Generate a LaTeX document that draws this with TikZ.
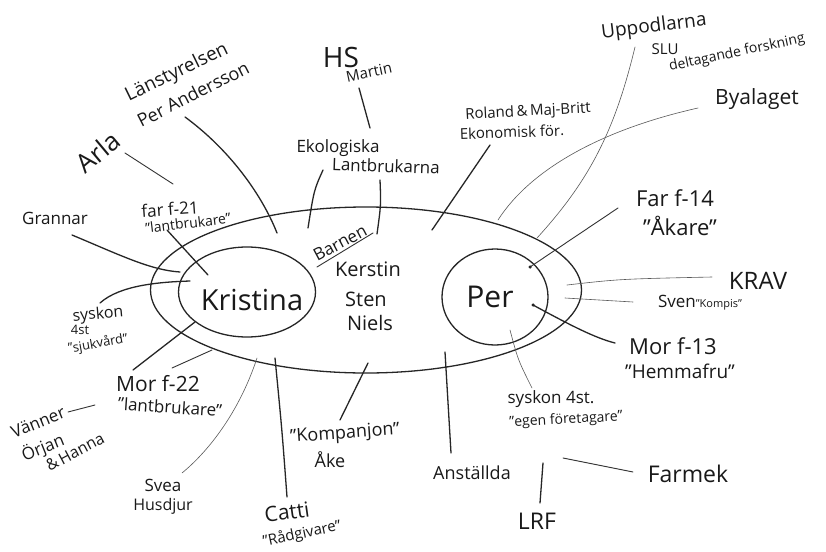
\documentclass[tikz,border=0pt]{standalone}
\usepackage{fontspec}
\setmainfont{Open Sans}
\usetikzlibrary{shapes.geometric}
\newcommand{\fs}[1]{\fontsize{#1}{#1}\selectfont}
\begin{document}
\begin{tikzpicture}[x=1pt,y=-1pt,
  lbl/.style={inner sep=0pt, align=center, text=black!90},
  ring/.style={draw=black!85, line width=1.3pt, ellipse, inner sep=0pt},
  thk/.style={draw=black!85, line width=1.3pt, line cap=round},
  mid/.style={draw=black!80, line width=0.9pt, line cap=round},
  thn/.style={draw=black!65, line width=0.6pt, line cap=round},
  pt/.style={circle, fill=black!85, inner sep=0pt, minimum size=3.5pt}]
\useasboundingbox (0,0) rectangle (826,551);
\fill[white] (0,0) rectangle (826,551);

% rings
\node[ring, minimum width=431pt, minimum height=166pt] (outer) at (366,290) {};
\node[ring, minimum width=137pt, minimum height=90pt] (kring) at (247,292) {};
\node[ring, minimum width=106pt, minimum height=96pt] (pring) at (495,297) {};

% centre labels
\node[lbl, font=\fs{29}] (kristina) at (252,300) {Kristina};
\node[lbl, font=\fs{30}] (per) at (490,297) {Per};
\node[lbl, font=\fs{20}] (kerstin) at (368,269) {Kerstin};
\node[lbl, font=\fs{20}] (sten) at (366,299) {Sten};
\node[lbl, font=\fs{20}] (niels) at (370,323) {Niels};
\node[lbl, font=\fs{17}, rotate=28] (barnen) at (340,243) {Barnen};

% outer labels
\node[lbl, font=\fs{19}, rotate=26] (lan1) at (177,73) {Länstyrelsen};
\node[lbl, font=\fs{18}, rotate=27] (lan2) at (193,94) {Per Andersson};
\node[lbl, font=\fs{28}] (hs) at (341,57) {HS};
\node[lbl, font=\fs{15}, rotate=12] (martin) at (369,72) {Martin};
\node[lbl, font=\fs{26}, rotate=40] (arla) at (98,152) {Arla};
\node[lbl, font=\fs{17}] (eko1) at (338,148) {Ekologiska};
\node[lbl, font=\fs{17}, rotate=-2] (eko2) at (386,166) {Lantbrukarna};
\node[lbl, font=\fs{15}, rotate=3] (rol1) at (528,112) {Roland\,\&\,Maj-Britt};
\node[lbl, font=\fs{15}, rotate=2] (rol2) at (512,132) {Ekonomisk för.};
\node[lbl, font=\fs{19}, rotate=7] (uppod) at (654,27) {Uppodlarna};
\node[lbl, font=\fs{15}] (slu) at (665,49) {SLU};
\node[lbl, font=\fs{14}, rotate=12] (delt) at (737,53) {deltagande forskning};
\node[lbl, font=\fs{21}] (byal) at (757,99) {Byalaget};
\node[lbl, font=\fs{22}] (far14) at (675,198) {Far f-14};
\node[lbl, font=\fs{22}] (akare) at (680,226) {”Åkare”};
\node[lbl, font=\fs{24}] (krav) at (758,281) {KRAV};
\node[lbl, font=\fs{17}] (sven) at (700,303) {Sven{\fs{11}”Kompis”}};
\node[lbl, font=\fs{22}] (mor13) at (673,346) {Mor f-13};
\node[lbl, font=\fs{19}] (hemma) at (680,371) {”Hemmafru”};
\node[lbl, font=\fs{17}] (sysk4) at (551,399) {syskon 4st.};
\node[lbl, font=\fs{14}, rotate=3] (egen) at (566,420) {”egen företagare”};
\node[lbl, font=\fs{18}] (anst) at (472,473) {Anställda};
\node[lbl, font=\fs{23}] (farmek) at (688,474) {Farmek};
\node[lbl, font=\fs{23}] (lrf) at (537,521) {LRF};
\node[lbl, font=\fs{18}, rotate=4] (kompj) at (345,434) {”Kompanjon”};
\node[lbl, font=\fs{18}] (ake) at (330,460) {Åke};
\node[lbl, font=\fs{21}, rotate=8] (catti) at (287,512) {Catti};
\node[lbl, font=\fs{15}, rotate=12] (radg) at (302,534) {”Rådgivare”};
\node[lbl, font=\fs{17}] (svea) at (163,485) {Svea};
\node[lbl, font=\fs{16}] (husdj) at (163,506) {Husdjur};
\node[lbl, font=\fs{17}, rotate=22] (vanner) at (38,422) {Vänner};
\node[lbl, font=\fs{17}, rotate=22] (orjan) at (43,448) {Örjan};
\node[lbl, font=\fs{16}, rotate=28] (hanna) at (75,452) {\&\,Hanna};
\node[lbl, font=\fs{21}] (mor22) at (158,384) {Mor f-22};
\node[lbl, font=\fs{17}, rotate=-4] (lant22) at (170,407) {”lantbrukare”};
\node[lbl, font=\fs{16}, rotate=5] (sysk) at (98,315) {syskon};
\node[lbl, font=\fs{13}] (fyrst) at (80,330) {4st};
\node[lbl, font=\fs{13}, rotate=10] (sjuk) at (98,344) {”sjukvård”};
\node[lbl, font=\fs{17}] (grann) at (55,218) {Grannar};
\node[lbl, font=\fs{17}, rotate=4] (far21) at (170,209) {far f-21};
\node[lbl, font=\fs{14}, rotate=7] (lant21) at (188,223) {”lantbrukare”};

% connector end points
\coordinate (lanA) at (185,117);   \coordinate (lanB) at (277,233);
\coordinate (hsA) at (359,88);     \coordinate (hsB) at (370,128);
\coordinate (ekA) at (323,170);    \coordinate (ekB) at (308,228);
\coordinate (ekC) at (380,180);    \coordinate (ekD) at (377,234);
\coordinate (arA) at (125,153);    \coordinate (arB) at (173,184);
\coordinate (f21A) at (167,230);   \coordinate (f21B) at (208,275);
\coordinate (grA) at (72,235);     \coordinate (grB) at (180,272);
\coordinate (syA) at (100,303);    \coordinate (syB) at (190,281);
\coordinate (m22A) at (133,370);   \coordinate (m22B) at (195,322);
\coordinate (m22C) at (172,368);   \coordinate (m22D) at (212,350);
\coordinate (svA) at (257,358);    \coordinate (svB) at (182,473);
\coordinate (caA) at (275,358);    \coordinate (caB) at (287,497);
\coordinate (koA) at (368,363);    \coordinate (koB) at (340,420);
\coordinate (anA) at (445,352);    \coordinate (anB) at (451,453);
\coordinate (lrA) at (543,463);    \coordinate (lrB) at (540,503);
\coordinate (fmA) at (563,458);    \coordinate (fmB) at (633,472);
\coordinate (s4A) at (510,330);    \coordinate (s4B) at (532,388);
\coordinate (m13A) at (533,305);   \coordinate (m13B) at (615,343);
\coordinate (krA) at (567,285);    \coordinate (krB) at (712,277);
\coordinate (snA) at (565,298);    \coordinate (snB) at (633,302);
\coordinate (f14A) at (530,267);   \coordinate (f14B) at (618,208);
\coordinate (byA) at (698,108);    \coordinate (byB) at (498,220);
\coordinate (upA) at (635,47);     \coordinate (upB) at (537,238);
\coordinate (roA) at (490,145);    \coordinate (roB) at (432,230);
\coordinate (vaA) at (68,412);     \coordinate (vaB) at (95,405);
\coordinate (baA) at (317,267);    \coordinate (baB) at (373,233);

% connectors
\draw[thk] (lanA) .. controls (230,150) and (262,195) .. (lanB);
\draw[thk] (hsA) -- (hsB);
\draw[thk] (ekA) .. controls (314,190) .. (ekB);
\draw[thk] (ekC) .. controls (381,205) .. (ekD);
\draw[mid] (arA) -- (arB);
\draw[thk] (f21A) -- (f21B);
\draw[thk] (grA) .. controls (120,255) and (150,270) .. (grB);
\draw[thk] (syA) .. controls (120,285) and (160,282) .. (syB);
\draw[thk] (m22A) -- (m22B);
\draw[mid] (m22C) -- (m22D);
\draw[thn] (svA) .. controls (240,410) and (210,450) .. (svB);
\draw[thk] (caA) .. controls (282,430) .. (caB);
\draw[thk] (koA) -- (koB);
\draw[thk] (anA) -- (anB);
\draw[thk] (lrA) -- (lrB);
\draw[mid] (fmA) -- (fmB);
\draw[thn] (s4A) .. controls (518,360) .. (s4B);
\draw[thk] (m13A) .. controls (570,325) and (595,338) .. (m13B);
\draw[thn] (krA) .. controls (620,279) .. (krB);
\draw[thn] (snA) -- (snB);
\draw[mid] (f14A) -- (f14B);
\draw[thn] (byA) .. controls (600,130) and (530,170) .. (byB);
\draw[thn] (upA) .. controls (615,130) and (590,180) .. (upB);
\draw[thk] (roA) -- (roB);
\draw[mid] (vaA) -- (vaB);
\draw[mid] (baA) -- (baB);
\node[pt] at (m13A) {};
\node[pt] at (f14A) {};
\end{tikzpicture}
\end{document}
